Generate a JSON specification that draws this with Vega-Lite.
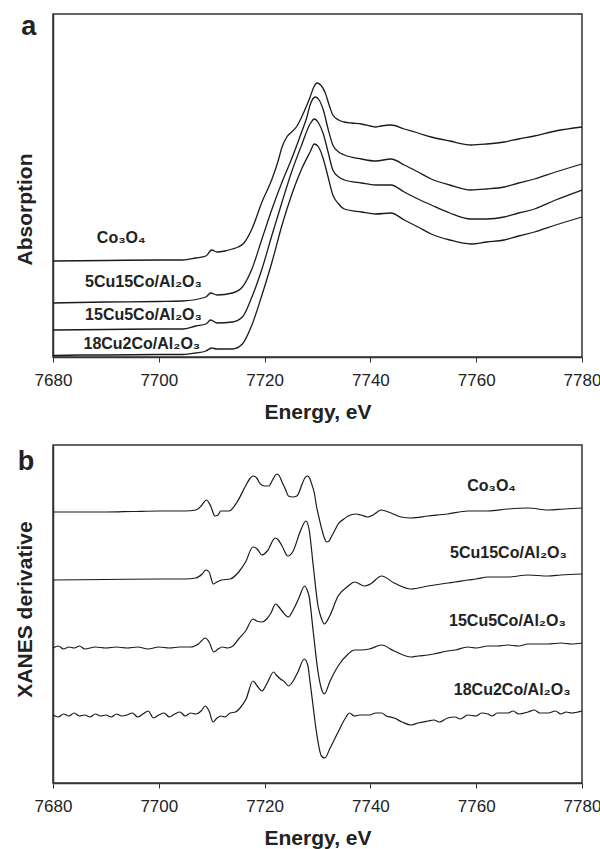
{
  "$schema": "https://vega.github.io/schema/vega-lite/v6.json",
  "padding": {"left": 13, "top": 12, "right": 0, "bottom": 0},
  "spacing": 21,
  "config": {
    "font": "Liberation Sans",
    "view": {"stroke": "#333333", "strokeWidth": 1.5},
    "axis": {"grid": false, "domainColor": "#333333", "domainWidth": 1.5, "tickColor": "#333333", "labelColor": "#222222", "titleColor": "#222222", "labelFont": "Liberation Sans", "titleFont": "Liberation Sans"},
    "text": {"font": "Liberation Sans", "color": "#222222"}
  },
  "datasets": {
    "abs": [
      {"s": "Co3O4", "e": 7680, "v": 96}, {"s": "Co3O4", "e": 7690, "v": 96.5}, {"s": "Co3O4", "e": 7700, "v": 97}, {"s": "Co3O4", "e": 7704.5, "v": 97}, {"s": "Co3O4", "e": 7707, "v": 99}, {"s": "Co3O4", "e": 7708.9, "v": 101}, {"s": "Co3O4", "e": 7710, "v": 107}, {"s": "Co3O4", "e": 7711, "v": 105}, {"s": "Co3O4", "e": 7712.5, "v": 106}, {"s": "Co3O4", "e": 7713.9, "v": 108}, {"s": "Co3O4", "e": 7715, "v": 110}, {"s": "Co3O4", "e": 7716.1, "v": 114}, {"s": "Co3O4", "e": 7717.6, "v": 128}, {"s": "Co3O4", "e": 7719.5, "v": 155}, {"s": "Co3O4", "e": 7721.4, "v": 178}, {"s": "Co3O4", "e": 7722.5, "v": 195}, {"s": "Co3O4", "e": 7723.3, "v": 210}, {"s": "Co3O4", "e": 7724.2, "v": 220}, {"s": "Co3O4", "e": 7725.1, "v": 225}, {"s": "Co3O4", "e": 7726, "v": 230}, {"s": "Co3O4", "e": 7727, "v": 240}, {"s": "Co3O4", "e": 7728, "v": 252}, {"s": "Co3O4", "e": 7728.6, "v": 260}, {"s": "Co3O4", "e": 7729.3, "v": 270}, {"s": "Co3O4", "e": 7729.9, "v": 274}, {"s": "Co3O4", "e": 7730.6, "v": 272}, {"s": "Co3O4", "e": 7731.4, "v": 265}, {"s": "Co3O4", "e": 7732.2, "v": 252}, {"s": "Co3O4", "e": 7732.9, "v": 242}, {"s": "Co3O4", "e": 7734, "v": 237}, {"s": "Co3O4", "e": 7735.1, "v": 235}, {"s": "Co3O4", "e": 7736.5, "v": 234}, {"s": "Co3O4", "e": 7738.3, "v": 233}, {"s": "Co3O4", "e": 7740, "v": 231}, {"s": "Co3O4", "e": 7741, "v": 230}, {"s": "Co3O4", "e": 7742, "v": 231}, {"s": "Co3O4", "e": 7743.9, "v": 232}, {"s": "Co3O4", "e": 7746.4, "v": 228}, {"s": "Co3O4", "e": 7749, "v": 224}, {"s": "Co3O4", "e": 7751.5, "v": 220}, {"s": "Co3O4", "e": 7755, "v": 216}, {"s": "Co3O4", "e": 7759, "v": 212}, {"s": "Co3O4", "e": 7762, "v": 213}, {"s": "Co3O4", "e": 7765.3, "v": 215}, {"s": "Co3O4", "e": 7768, "v": 218}, {"s": "Co3O4", "e": 7771, "v": 221}, {"s": "Co3O4", "e": 7775, "v": 226}, {"s": "Co3O4", "e": 7780, "v": 230},
      {"s": "5Cu15Co", "e": 7680, "v": 54}, {"s": "5Cu15Co", "e": 7690, "v": 55}, {"s": "5Cu15Co", "e": 7700, "v": 55.5}, {"s": "5Cu15Co", "e": 7704.5, "v": 56}, {"s": "5Cu15Co", "e": 7708.9, "v": 60}, {"s": "5Cu15Co", "e": 7709.8, "v": 64}, {"s": "5Cu15Co", "e": 7711, "v": 62}, {"s": "5Cu15Co", "e": 7713.9, "v": 64}, {"s": "5Cu15Co", "e": 7715.8, "v": 70}, {"s": "5Cu15Co", "e": 7717.6, "v": 88}, {"s": "5Cu15Co", "e": 7719.5, "v": 118}, {"s": "5Cu15Co", "e": 7721.4, "v": 148}, {"s": "5Cu15Co", "e": 7723.3, "v": 175}, {"s": "5Cu15Co", "e": 7725.1, "v": 198}, {"s": "5Cu15Co", "e": 7727, "v": 225}, {"s": "5Cu15Co", "e": 7728, "v": 240}, {"s": "5Cu15Co", "e": 7728.6, "v": 252}, {"s": "5Cu15Co", "e": 7729.6, "v": 260}, {"s": "5Cu15Co", "e": 7730.3, "v": 257}, {"s": "5Cu15Co", "e": 7731.1, "v": 247}, {"s": "5Cu15Co", "e": 7732, "v": 228}, {"s": "5Cu15Co", "e": 7732.9, "v": 212}, {"s": "5Cu15Co", "e": 7734, "v": 205}, {"s": "5Cu15Co", "e": 7735.1, "v": 202}, {"s": "5Cu15Co", "e": 7738.3, "v": 198}, {"s": "5Cu15Co", "e": 7741, "v": 196}, {"s": "5Cu15Co", "e": 7743.9, "v": 198}, {"s": "5Cu15Co", "e": 7746.4, "v": 192}, {"s": "5Cu15Co", "e": 7749, "v": 185}, {"s": "5Cu15Co", "e": 7751.5, "v": 178}, {"s": "5Cu15Co", "e": 7755, "v": 172}, {"s": "5Cu15Co", "e": 7759, "v": 167}, {"s": "5Cu15Co", "e": 7762, "v": 168}, {"s": "5Cu15Co", "e": 7765.3, "v": 170}, {"s": "5Cu15Co", "e": 7768, "v": 174}, {"s": "5Cu15Co", "e": 7771, "v": 178}, {"s": "5Cu15Co", "e": 7775, "v": 185}, {"s": "5Cu15Co", "e": 7780, "v": 193},
      {"s": "15Cu5Co", "e": 7680, "v": 27}, {"s": "15Cu5Co", "e": 7690, "v": 27.5}, {"s": "15Cu5Co", "e": 7700, "v": 28}, {"s": "15Cu5Co", "e": 7704.5, "v": 28}, {"s": "15Cu5Co", "e": 7707, "v": 31}, {"s": "15Cu5Co", "e": 7708.9, "v": 33}, {"s": "15Cu5Co", "e": 7709.8, "v": 37}, {"s": "15Cu5Co", "e": 7711, "v": 34}, {"s": "15Cu5Co", "e": 7713.9, "v": 35}, {"s": "15Cu5Co", "e": 7715.8, "v": 40}, {"s": "15Cu5Co", "e": 7717.6, "v": 60}, {"s": "15Cu5Co", "e": 7719.5, "v": 88}, {"s": "15Cu5Co", "e": 7721.4, "v": 122}, {"s": "15Cu5Co", "e": 7723.3, "v": 155}, {"s": "15Cu5Co", "e": 7725.1, "v": 185}, {"s": "15Cu5Co", "e": 7727, "v": 212}, {"s": "15Cu5Co", "e": 7728.6, "v": 233}, {"s": "15Cu5Co", "e": 7729.4, "v": 238}, {"s": "15Cu5Co", "e": 7730.2, "v": 234}, {"s": "15Cu5Co", "e": 7731.1, "v": 223}, {"s": "15Cu5Co", "e": 7732, "v": 205}, {"s": "15Cu5Co", "e": 7732.9, "v": 187}, {"s": "15Cu5Co", "e": 7734, "v": 180}, {"s": "15Cu5Co", "e": 7735.1, "v": 177}, {"s": "15Cu5Co", "e": 7738.3, "v": 174}, {"s": "15Cu5Co", "e": 7741, "v": 172}, {"s": "15Cu5Co", "e": 7743.9, "v": 172}, {"s": "15Cu5Co", "e": 7746.4, "v": 165}, {"s": "15Cu5Co", "e": 7749, "v": 158}, {"s": "15Cu5Co", "e": 7751.5, "v": 152}, {"s": "15Cu5Co", "e": 7755, "v": 144}, {"s": "15Cu5Co", "e": 7759, "v": 138}, {"s": "15Cu5Co", "e": 7762, "v": 138}, {"s": "15Cu5Co", "e": 7765.3, "v": 140}, {"s": "15Cu5Co", "e": 7768, "v": 144}, {"s": "15Cu5Co", "e": 7771, "v": 148}, {"s": "15Cu5Co", "e": 7775, "v": 157}, {"s": "15Cu5Co", "e": 7780, "v": 167},
      {"s": "18Cu2Co", "e": 7680, "v": 1.5}, {"s": "18Cu2Co", "e": 7685, "v": 2}, {"s": "18Cu2Co", "e": 7690, "v": 2}, {"s": "18Cu2Co", "e": 7700, "v": 2.5}, {"s": "18Cu2Co", "e": 7704.5, "v": 2.5}, {"s": "18Cu2Co", "e": 7707, "v": 4}, {"s": "18Cu2Co", "e": 7708.9, "v": 6}, {"s": "18Cu2Co", "e": 7710, "v": 9}, {"s": "18Cu2Co", "e": 7711, "v": 8}, {"s": "18Cu2Co", "e": 7713.9, "v": 8}, {"s": "18Cu2Co", "e": 7715.8, "v": 13}, {"s": "18Cu2Co", "e": 7717.6, "v": 32}, {"s": "18Cu2Co", "e": 7719.5, "v": 62}, {"s": "18Cu2Co", "e": 7721.4, "v": 95}, {"s": "18Cu2Co", "e": 7723.3, "v": 132}, {"s": "18Cu2Co", "e": 7725.1, "v": 162}, {"s": "18Cu2Co", "e": 7727, "v": 188}, {"s": "18Cu2Co", "e": 7728.6, "v": 205}, {"s": "18Cu2Co", "e": 7729.4, "v": 213}, {"s": "18Cu2Co", "e": 7730.2, "v": 210}, {"s": "18Cu2Co", "e": 7731.1, "v": 198}, {"s": "18Cu2Co", "e": 7732, "v": 180}, {"s": "18Cu2Co", "e": 7732.9, "v": 162}, {"s": "18Cu2Co", "e": 7734, "v": 153}, {"s": "18Cu2Co", "e": 7735.1, "v": 148}, {"s": "18Cu2Co", "e": 7738.3, "v": 145}, {"s": "18Cu2Co", "e": 7741, "v": 143}, {"s": "18Cu2Co", "e": 7743.9, "v": 144}, {"s": "18Cu2Co", "e": 7746.4, "v": 137}, {"s": "18Cu2Co", "e": 7749, "v": 130}, {"s": "18Cu2Co", "e": 7751.5, "v": 123}, {"s": "18Cu2Co", "e": 7755, "v": 117}, {"s": "18Cu2Co", "e": 7759, "v": 113}, {"s": "18Cu2Co", "e": 7762, "v": 115}, {"s": "18Cu2Co", "e": 7765.3, "v": 117}, {"s": "18Cu2Co", "e": 7768, "v": 121}, {"s": "18Cu2Co", "e": 7771, "v": 125}, {"s": "18Cu2Co", "e": 7775, "v": 132}, {"s": "18Cu2Co", "e": 7780, "v": 140}
    ],
    "absLabels": [
      {"t": "Co₃O₄", "e": 7692.9, "v": 114},
      {"t": "5Cu15Co/Al₂O₃", "e": 7697.1, "v": 70},
      {"t": "15Cu5Co/Al₂O₃", "e": 7697.1, "v": 37},
      {"t": "18Cu2Co/Al₂O₃", "e": 7696.8, "v": 8.5}
    ],
    "absLetter": [{"t": "a", "e": 7675.4, "v": 322}],
    "der": [
      {"s": "Co3O4", "e": 7680, "v": 271}, {"s": "Co3O4", "e": 7690, "v": 271}, {"s": "Co3O4", "e": 7695, "v": 271.5}, {"s": "Co3O4", "e": 7700, "v": 272}, {"s": "Co3O4", "e": 7705, "v": 272}, {"s": "Co3O4", "e": 7707, "v": 273}, {"s": "Co3O4", "e": 7708, "v": 277}, {"s": "Co3O4", "e": 7709, "v": 283}, {"s": "Co3O4", "e": 7709.8, "v": 277}, {"s": "Co3O4", "e": 7710.6, "v": 267}, {"s": "Co3O4", "e": 7711.2, "v": 268}, {"s": "Co3O4", "e": 7711.7, "v": 272}, {"s": "Co3O4", "e": 7713.3, "v": 272}, {"s": "Co3O4", "e": 7714.8, "v": 281}, {"s": "Co3O4", "e": 7716.4, "v": 297}, {"s": "Co3O4", "e": 7717.3, "v": 305}, {"s": "Co3O4", "e": 7717.8, "v": 307}, {"s": "Co3O4", "e": 7718.5, "v": 305}, {"s": "Co3O4", "e": 7719.2, "v": 299}, {"s": "Co3O4", "e": 7720, "v": 297}, {"s": "Co3O4", "e": 7720.8, "v": 297}, {"s": "Co3O4", "e": 7721.5, "v": 303}, {"s": "Co3O4", "e": 7722.3, "v": 309}, {"s": "Co3O4", "e": 7722.8, "v": 307}, {"s": "Co3O4", "e": 7723.3, "v": 301}, {"s": "Co3O4", "e": 7724, "v": 293}, {"s": "Co3O4", "e": 7724.5, "v": 287}, {"s": "Co3O4", "e": 7725.3, "v": 286}, {"s": "Co3O4", "e": 7726.1, "v": 287}, {"s": "Co3O4", "e": 7727.1, "v": 299}, {"s": "Co3O4", "e": 7727.6, "v": 305}, {"s": "Co3O4", "e": 7728.1, "v": 307}, {"s": "Co3O4", "e": 7728.5, "v": 305}, {"s": "Co3O4", "e": 7728.9, "v": 299}, {"s": "Co3O4", "e": 7729.4, "v": 290}, {"s": "Co3O4", "e": 7729.8, "v": 277}, {"s": "Co3O4", "e": 7730.3, "v": 265}, {"s": "Co3O4", "e": 7730.8, "v": 254}, {"s": "Co3O4", "e": 7731.3, "v": 245}, {"s": "Co3O4", "e": 7731.7, "v": 241}, {"s": "Co3O4", "e": 7732.2, "v": 242}, {"s": "Co3O4", "e": 7732.6, "v": 246}, {"s": "Co3O4", "e": 7733.3, "v": 253}, {"s": "Co3O4", "e": 7733.9, "v": 259}, {"s": "Co3O4", "e": 7735, "v": 264}, {"s": "Co3O4", "e": 7735.8, "v": 267}, {"s": "Co3O4", "e": 7737.3, "v": 269}, {"s": "Co3O4", "e": 7738.2, "v": 268}, {"s": "Co3O4", "e": 7739.5, "v": 266}, {"s": "Co3O4", "e": 7740.5, "v": 268}, {"s": "Co3O4", "e": 7742, "v": 273}, {"s": "Co3O4", "e": 7743.9, "v": 270}, {"s": "Co3O4", "e": 7745.8, "v": 266}, {"s": "Co3O4", "e": 7747.7, "v": 265}, {"s": "Co3O4", "e": 7750.9, "v": 267}, {"s": "Co3O4", "e": 7754.6, "v": 269}, {"s": "Co3O4", "e": 7758.4, "v": 272}, {"s": "Co3O4", "e": 7762.2, "v": 272}, {"s": "Co3O4", "e": 7766, "v": 274}, {"s": "Co3O4", "e": 7769.8, "v": 275}, {"s": "Co3O4", "e": 7773.6, "v": 273}, {"s": "Co3O4", "e": 7776.7, "v": 274}, {"s": "Co3O4", "e": 7780, "v": 275},
      {"s": "5Cu15Co", "e": 7680, "v": 203}, {"s": "5Cu15Co", "e": 7690, "v": 203.5}, {"s": "5Cu15Co", "e": 7700, "v": 204}, {"s": "5Cu15Co", "e": 7705, "v": 204}, {"s": "5Cu15Co", "e": 7707, "v": 205}, {"s": "5Cu15Co", "e": 7708.2, "v": 209}, {"s": "5Cu15Co", "e": 7708.9, "v": 213}, {"s": "5Cu15Co", "e": 7709.5, "v": 211}, {"s": "5Cu15Co", "e": 7710.3, "v": 199}, {"s": "5Cu15Co", "e": 7711, "v": 201}, {"s": "5Cu15Co", "e": 7711.9, "v": 203}, {"s": "5Cu15Co", "e": 7713.5, "v": 204}, {"s": "5Cu15Co", "e": 7715.1, "v": 211}, {"s": "5Cu15Co", "e": 7716.4, "v": 221}, {"s": "5Cu15Co", "e": 7717.8, "v": 236}, {"s": "5Cu15Co", "e": 7718.6, "v": 234}, {"s": "5Cu15Co", "e": 7719.5, "v": 228}, {"s": "5Cu15Co", "e": 7720.5, "v": 232}, {"s": "5Cu15Co", "e": 7722, "v": 245}, {"s": "5Cu15Co", "e": 7722.6, "v": 243}, {"s": "5Cu15Co", "e": 7723.3, "v": 237}, {"s": "5Cu15Co", "e": 7724.4, "v": 227}, {"s": "5Cu15Co", "e": 7725.4, "v": 232}, {"s": "5Cu15Co", "e": 7726.7, "v": 251}, {"s": "5Cu15Co", "e": 7727.8, "v": 262}, {"s": "5Cu15Co", "e": 7728.4, "v": 254}, {"s": "5Cu15Co", "e": 7729.2, "v": 217}, {"s": "5Cu15Co", "e": 7730.1, "v": 177}, {"s": "5Cu15Co", "e": 7730.7, "v": 165}, {"s": "5Cu15Co", "e": 7731.3, "v": 159}, {"s": "5Cu15Co", "e": 7732.3, "v": 167}, {"s": "5Cu15Co", "e": 7733.9, "v": 187}, {"s": "5Cu15Co", "e": 7735.8, "v": 197}, {"s": "5Cu15Co", "e": 7737, "v": 201}, {"s": "5Cu15Co", "e": 7738.9, "v": 197}, {"s": "5Cu15Co", "e": 7740, "v": 199}, {"s": "5Cu15Co", "e": 7742.1, "v": 207}, {"s": "5Cu15Co", "e": 7744.5, "v": 200}, {"s": "5Cu15Co", "e": 7747.7, "v": 194}, {"s": "5Cu15Co", "e": 7750.9, "v": 197}, {"s": "5Cu15Co", "e": 7754.6, "v": 200}, {"s": "5Cu15Co", "e": 7756, "v": 201}, {"s": "5Cu15Co", "e": 7758.4, "v": 203}, {"s": "5Cu15Co", "e": 7760, "v": 204}, {"s": "5Cu15Co", "e": 7762.2, "v": 206}, {"s": "5Cu15Co", "e": 7766, "v": 206}, {"s": "5Cu15Co", "e": 7769.8, "v": 208}, {"s": "5Cu15Co", "e": 7773.6, "v": 207}, {"s": "5Cu15Co", "e": 7776, "v": 208}, {"s": "5Cu15Co", "e": 7780, "v": 209},
      {"s": "15Cu5Co", "e": 7680, "v": 135}, {"s": "15Cu5Co", "e": 7681, "v": 137}, {"s": "15Cu5Co", "e": 7682, "v": 134}, {"s": "15Cu5Co", "e": 7683, "v": 136}, {"s": "15Cu5Co", "e": 7684, "v": 135}, {"s": "15Cu5Co", "e": 7685, "v": 137}, {"s": "15Cu5Co", "e": 7686, "v": 134}, {"s": "15Cu5Co", "e": 7688, "v": 136}, {"s": "15Cu5Co", "e": 7690, "v": 135}, {"s": "15Cu5Co", "e": 7692, "v": 136}, {"s": "15Cu5Co", "e": 7694, "v": 135}, {"s": "15Cu5Co", "e": 7696, "v": 136}, {"s": "15Cu5Co", "e": 7698, "v": 134}, {"s": "15Cu5Co", "e": 7700, "v": 136}, {"s": "15Cu5Co", "e": 7702, "v": 135}, {"s": "15Cu5Co", "e": 7704, "v": 136}, {"s": "15Cu5Co", "e": 7706, "v": 136}, {"s": "15Cu5Co", "e": 7707.5, "v": 139}, {"s": "15Cu5Co", "e": 7708.8, "v": 145}, {"s": "15Cu5Co", "e": 7709.5, "v": 141}, {"s": "15Cu5Co", "e": 7710.4, "v": 131}, {"s": "15Cu5Co", "e": 7711.2, "v": 134}, {"s": "15Cu5Co", "e": 7712, "v": 136}, {"s": "15Cu5Co", "e": 7713, "v": 135}, {"s": "15Cu5Co", "e": 7714, "v": 137}, {"s": "15Cu5Co", "e": 7715.1, "v": 144}, {"s": "15Cu5Co", "e": 7716.4, "v": 152}, {"s": "15Cu5Co", "e": 7717.8, "v": 164}, {"s": "15Cu5Co", "e": 7718.5, "v": 162}, {"s": "15Cu5Co", "e": 7719.5, "v": 161}, {"s": "15Cu5Co", "e": 7720.4, "v": 164}, {"s": "15Cu5Co", "e": 7721.2, "v": 170}, {"s": "15Cu5Co", "e": 7722.1, "v": 179}, {"s": "15Cu5Co", "e": 7722.7, "v": 176}, {"s": "15Cu5Co", "e": 7723.3, "v": 172}, {"s": "15Cu5Co", "e": 7724.5, "v": 166}, {"s": "15Cu5Co", "e": 7725.5, "v": 174}, {"s": "15Cu5Co", "e": 7726.4, "v": 184}, {"s": "15Cu5Co", "e": 7727.6, "v": 197}, {"s": "15Cu5Co", "e": 7728.1, "v": 192}, {"s": "15Cu5Co", "e": 7728.4, "v": 187}, {"s": "15Cu5Co", "e": 7729.2, "v": 151}, {"s": "15Cu5Co", "e": 7730.1, "v": 111}, {"s": "15Cu5Co", "e": 7730.7, "v": 95}, {"s": "15Cu5Co", "e": 7731.3, "v": 89}, {"s": "15Cu5Co", "e": 7732.3, "v": 101}, {"s": "15Cu5Co", "e": 7733.9, "v": 117}, {"s": "15Cu5Co", "e": 7735.8, "v": 129}, {"s": "15Cu5Co", "e": 7737, "v": 133}, {"s": "15Cu5Co", "e": 7738.2, "v": 133}, {"s": "15Cu5Co", "e": 7739.8, "v": 134}, {"s": "15Cu5Co", "e": 7742.1, "v": 138}, {"s": "15Cu5Co", "e": 7744.5, "v": 132}, {"s": "15Cu5Co", "e": 7747.7, "v": 126}, {"s": "15Cu5Co", "e": 7749, "v": 127}, {"s": "15Cu5Co", "e": 7750.9, "v": 128}, {"s": "15Cu5Co", "e": 7752, "v": 129}, {"s": "15Cu5Co", "e": 7754.6, "v": 132}, {"s": "15Cu5Co", "e": 7756, "v": 133}, {"s": "15Cu5Co", "e": 7758.4, "v": 136}, {"s": "15Cu5Co", "e": 7760, "v": 135}, {"s": "15Cu5Co", "e": 7762.2, "v": 137}, {"s": "15Cu5Co", "e": 7764, "v": 137}, {"s": "15Cu5Co", "e": 7766, "v": 138}, {"s": "15Cu5Co", "e": 7768, "v": 137}, {"s": "15Cu5Co", "e": 7769.8, "v": 139}, {"s": "15Cu5Co", "e": 7772, "v": 139}, {"s": "15Cu5Co", "e": 7773.6, "v": 139}, {"s": "15Cu5Co", "e": 7776, "v": 140}, {"s": "15Cu5Co", "e": 7778, "v": 139}, {"s": "15Cu5Co", "e": 7780, "v": 140},
      {"s": "18Cu2Co", "e": 7680, "v": 68}, {"s": "18Cu2Co", "e": 7681, "v": 66}, {"s": "18Cu2Co", "e": 7682, "v": 69}, {"s": "18Cu2Co", "e": 7683, "v": 67}, {"s": "18Cu2Co", "e": 7684, "v": 70}, {"s": "18Cu2Co", "e": 7685, "v": 67}, {"s": "18Cu2Co", "e": 7686, "v": 68}, {"s": "18Cu2Co", "e": 7687, "v": 66}, {"s": "18Cu2Co", "e": 7688, "v": 69}, {"s": "18Cu2Co", "e": 7689, "v": 67}, {"s": "18Cu2Co", "e": 7690, "v": 68}, {"s": "18Cu2Co", "e": 7691, "v": 66}, {"s": "18Cu2Co", "e": 7692, "v": 69}, {"s": "18Cu2Co", "e": 7693, "v": 67}, {"s": "18Cu2Co", "e": 7694, "v": 68}, {"s": "18Cu2Co", "e": 7695, "v": 70}, {"s": "18Cu2Co", "e": 7696, "v": 66}, {"s": "18Cu2Co", "e": 7697, "v": 69}, {"s": "18Cu2Co", "e": 7698, "v": 72}, {"s": "18Cu2Co", "e": 7699, "v": 65}, {"s": "18Cu2Co", "e": 7700, "v": 68}, {"s": "18Cu2Co", "e": 7701, "v": 70}, {"s": "18Cu2Co", "e": 7702, "v": 66}, {"s": "18Cu2Co", "e": 7703, "v": 69}, {"s": "18Cu2Co", "e": 7704, "v": 71}, {"s": "18Cu2Co", "e": 7705, "v": 67}, {"s": "18Cu2Co", "e": 7706, "v": 70}, {"s": "18Cu2Co", "e": 7707, "v": 69}, {"s": "18Cu2Co", "e": 7708, "v": 72}, {"s": "18Cu2Co", "e": 7708.75, "v": 77}, {"s": "18Cu2Co", "e": 7709.5, "v": 72}, {"s": "18Cu2Co", "e": 7710.25, "v": 61}, {"s": "18Cu2Co", "e": 7711, "v": 65}, {"s": "18Cu2Co", "e": 7711.8, "v": 67}, {"s": "18Cu2Co", "e": 7712.5, "v": 66}, {"s": "18Cu2Co", "e": 7713.5, "v": 70}, {"s": "18Cu2Co", "e": 7714.5, "v": 71}, {"s": "18Cu2Co", "e": 7715.5, "v": 76}, {"s": "18Cu2Co", "e": 7716.5, "v": 84}, {"s": "18Cu2Co", "e": 7717.8, "v": 102}, {"s": "18Cu2Co", "e": 7718.6, "v": 97}, {"s": "18Cu2Co", "e": 7719.5, "v": 92}, {"s": "18Cu2Co", "e": 7720.5, "v": 100}, {"s": "18Cu2Co", "e": 7721.7, "v": 111}, {"s": "18Cu2Co", "e": 7722.2, "v": 108}, {"s": "18Cu2Co", "e": 7723, "v": 104}, {"s": "18Cu2Co", "e": 7723.8, "v": 101}, {"s": "18Cu2Co", "e": 7724.5, "v": 97}, {"s": "18Cu2Co", "e": 7725.4, "v": 102}, {"s": "18Cu2Co", "e": 7726.3, "v": 111}, {"s": "18Cu2Co", "e": 7727.5, "v": 124}, {"s": "18Cu2Co", "e": 7728.2, "v": 117}, {"s": "18Cu2Co", "e": 7728.5, "v": 105}, {"s": "18Cu2Co", "e": 7729, "v": 84}, {"s": "18Cu2Co", "e": 7729.8, "v": 51}, {"s": "18Cu2Co", "e": 7730.75, "v": 27}, {"s": "18Cu2Co", "e": 7731.4, "v": 25}, {"s": "18Cu2Co", "e": 7732.3, "v": 34}, {"s": "18Cu2Co", "e": 7733.9, "v": 51}, {"s": "18Cu2Co", "e": 7735.4, "v": 66}, {"s": "18Cu2Co", "e": 7736, "v": 70}, {"s": "18Cu2Co", "e": 7737, "v": 67}, {"s": "18Cu2Co", "e": 7738, "v": 68}, {"s": "18Cu2Co", "e": 7739.8, "v": 68}, {"s": "18Cu2Co", "e": 7741, "v": 70}, {"s": "18Cu2Co", "e": 7742.1, "v": 70}, {"s": "18Cu2Co", "e": 7743, "v": 67}, {"s": "18Cu2Co", "e": 7744.5, "v": 65}, {"s": "18Cu2Co", "e": 7746, "v": 61}, {"s": "18Cu2Co", "e": 7747.7, "v": 58}, {"s": "18Cu2Co", "e": 7749, "v": 60}, {"s": "18Cu2Co", "e": 7750.9, "v": 62}, {"s": "18Cu2Co", "e": 7752, "v": 63}, {"s": "18Cu2Co", "e": 7753, "v": 61}, {"s": "18Cu2Co", "e": 7754.6, "v": 65}, {"s": "18Cu2Co", "e": 7756, "v": 66}, {"s": "18Cu2Co", "e": 7757, "v": 64}, {"s": "18Cu2Co", "e": 7758.4, "v": 68}, {"s": "18Cu2Co", "e": 7760, "v": 67}, {"s": "18Cu2Co", "e": 7761, "v": 70}, {"s": "18Cu2Co", "e": 7762.2, "v": 69}, {"s": "18Cu2Co", "e": 7763, "v": 67}, {"s": "18Cu2Co", "e": 7764, "v": 70}, {"s": "18Cu2Co", "e": 7766, "v": 70}, {"s": "18Cu2Co", "e": 7767, "v": 72}, {"s": "18Cu2Co", "e": 7768, "v": 69}, {"s": "18Cu2Co", "e": 7769.8, "v": 71}, {"s": "18Cu2Co", "e": 7771, "v": 73}, {"s": "18Cu2Co", "e": 7772, "v": 70}, {"s": "18Cu2Co", "e": 7773.6, "v": 70}, {"s": "18Cu2Co", "e": 7775, "v": 72}, {"s": "18Cu2Co", "e": 7776, "v": 69}, {"s": "18Cu2Co", "e": 7777, "v": 71}, {"s": "18Cu2Co", "e": 7778, "v": 70}, {"s": "18Cu2Co", "e": 7780, "v": 72}
    ],
    "derLabels": [
      {"t": "Co₃O₄", "e": 7762.9, "v": 291.7},
      {"t": "5Cu15Co/Al₂O₃", "e": 7766.1, "v": 225},
      {"t": "15Cu5Co/Al₂O₃", "e": 7765.9, "v": 156.7},
      {"t": "18Cu2Co/Al₂O₃", "e": 7766.8, "v": 88.3}
    ],
    "derLetter": [{"t": "b", "e": 7674.9, "v": 313}]
  },
  "vconcat": [
    {
      "width": 529,
      "height": 343,
      "layer": [
        {
          "data": {"name": "abs"},
          "mark": {"type": "line", "color": "#1a1a1a", "strokeWidth": 1.3, "interpolate": "monotone"},
          "encoding": {
            "x": {"field": "e", "type": "quantitative", "scale": {"domain": [7680, 7780], "nice": false, "zero": false},
              "axis": {"title": "Energy, eV", "values": [7680, 7700, 7720, 7740, 7760, 7780], "format": "d", "tickSize": 5, "labelFontSize": 17, "labelPadding": 10, "titleFontSize": 21, "titleFontWeight": "bold", "titlePadding": 13, "labelFlush": false}},
            "y": {"field": "v", "type": "quantitative", "scale": {"domain": [0, 343], "nice": false},
              "axis": {"title": "Absorption", "ticks": false, "labels": false, "titleFontSize": 21, "titleFontWeight": "bold", "titlePadding": 18, "titleY": 195}},
            "detail": {"field": "s"}
          }
        },
        {
          "data": {"name": "absLabels"},
          "mark": {"type": "text", "fontWeight": "bold", "fontSize": 16, "align": "center", "baseline": "alphabetic"},
          "encoding": {
            "x": {"field": "e", "type": "quantitative"},
            "y": {"field": "v", "type": "quantitative"},
            "text": {"field": "t"}
          }
        },
        {
          "data": {"name": "absLetter"},
          "mark": {"type": "text", "fontWeight": "bold", "fontSize": 27, "align": "center", "baseline": "alphabetic"},
          "encoding": {
            "x": {"field": "e", "type": "quantitative"},
            "y": {"field": "v", "type": "quantitative"},
            "text": {"field": "t"}
          }
        }
      ]
    },
    {
      "width": 529,
      "height": 338,
      "layer": [
        {
          "data": {"name": "der"},
          "mark": {"type": "line", "color": "#1a1a1a", "strokeWidth": 1.2, "interpolate": "monotone"},
          "encoding": {
            "x": {"field": "e", "type": "quantitative", "scale": {"domain": [7680, 7780], "nice": false, "zero": false},
              "axis": {"title": "Energy, eV", "values": [7680, 7700, 7720, 7740, 7760, 7780], "format": "d", "tickSize": 5, "labelFontSize": 17, "labelPadding": 10, "titleFontSize": 21, "titleFontWeight": "bold", "titlePadding": 13, "labelFlush": false}},
            "y": {"field": "v", "type": "quantitative", "scale": {"domain": [0, 338], "nice": false},
              "axis": {"title": "XANES derivative", "ticks": false, "labels": false, "titleFontSize": 21, "titleFontWeight": "bold", "titlePadding": 18, "titleY": 164}},
            "detail": {"field": "s"}
          }
        },
        {
          "data": {"name": "derLabels"},
          "mark": {"type": "text", "fontWeight": "bold", "fontSize": 16, "align": "center", "baseline": "alphabetic"},
          "encoding": {
            "x": {"field": "e", "type": "quantitative"},
            "y": {"field": "v", "type": "quantitative"},
            "text": {"field": "t"}
          }
        },
        {
          "data": {"name": "derLetter"},
          "mark": {"type": "text", "fontWeight": "bold", "fontSize": 27, "align": "center", "baseline": "alphabetic"},
          "encoding": {
            "x": {"field": "e", "type": "quantitative"},
            "y": {"field": "v", "type": "quantitative"},
            "text": {"field": "t"}
          }
        }
      ]
    }
  ]
}
